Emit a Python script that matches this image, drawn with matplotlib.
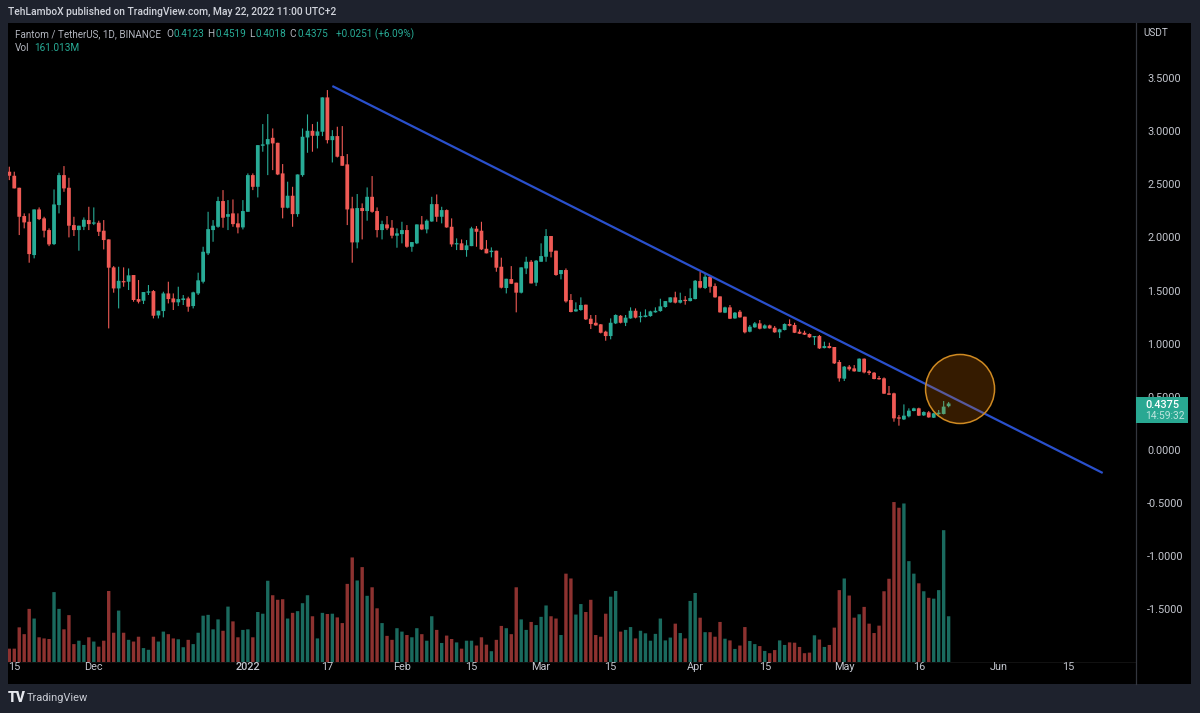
import numpy as np
import pandas as pd
import matplotlib
matplotlib.use("Agg")
import matplotlib.pyplot as plt
import matplotlib.dates as mdates
from matplotlib.patches import Ellipse, Rectangle

opens = [2.618,2.580,2.467,2.201,2.147,1.834,2.263,2.179,2.069,1.937,
2.304,2.586,2.467,2.116,2.069,2.100,2.163,2.129,2.138,2.063,
1.981,1.718,1.520,1.589,1.583,1.646,1.420,1.404,1.480,1.495,
1.266,1.307,1.473,1.426,1.389,1.411,1.426,1.354,1.473,1.583,
1.850,2.069,2.100,2.342,2.194,2.226,2.132,2.094,2.241,2.586,
2.476,2.862,2.875,2.937,2.890,2.602,2.279,2.392,2.219,2.586,
2.940,3.003,2.956,2.994,3.317,2.915,2.953,2.765,2.687,2.273,
1.953,2.276,2.248,2.382,2.248,2.069,2.122,2.091,2.016,2.031,
2.069,1.912,1.944,2.122,2.075,2.150,2.313,2.194,2.257,2.100,
1.934,1.944,1.881,1.918,2.082,2.063,1.893,1.862,1.875,1.724,
1.524,1.608,1.574,1.480,1.708,1.771,1.574,1.771,1.818,2.013,
1.875,1.655,1.693,1.411,1.304,1.317,1.367,1.235,1.197,1.182,
1.113,1.072,1.191,1.263,1.197,1.238,1.310,1.248,1.251,1.260,
1.295,1.307,1.345,1.389,1.436,1.386,1.411,1.401,1.420,1.589,
1.524,1.630,1.542,1.445,1.292,1.342,1.238,1.301,1.254,1.113,
1.154,1.191,1.144,1.172,1.150,1.107,1.129,1.185,1.176,1.113,
1.103,1.091,1.060,1.072,0.959,0.978,0.969,0.828,0.671,0.784,
0.768,0.737,0.859,0.740,0.727,0.674,0.674,0.533,0.533,0.307,
0.288,0.317,0.367,0.392,0.326,0.354,0.304,0.339,0.339,0.4123]

highs = [2.665,2.618,2.467,2.226,2.226,2.263,2.282,2.194,2.085,2.451,
2.608,2.671,2.561,2.194,2.110,2.188,2.288,2.282,2.157,2.163,
1.981,1.730,1.724,1.718,1.708,1.646,1.599,1.486,1.552,1.505,
1.310,1.489,1.583,1.473,1.536,1.458,1.442,1.489,1.668,1.912,
2.241,2.163,2.382,2.445,2.351,2.357,2.226,2.351,2.602,2.602,
2.868,3.066,3.160,3.025,2.890,2.690,2.524,2.476,2.592,3.025,
3.157,3.066,3.088,3.317,3.386,3.009,3.041,3.047,2.784,2.382,
2.408,2.320,2.470,2.577,2.282,2.157,2.201,2.163,2.085,2.147,
2.116,1.956,2.122,2.201,2.169,2.382,2.404,2.288,2.263,2.179,
1.991,1.981,1.975,2.100,2.107,2.147,1.975,1.906,1.875,1.809,
1.611,1.730,1.574,1.718,1.818,1.787,1.787,1.944,2.078,2.013,
1.875,1.693,1.708,1.467,1.389,1.436,1.367,1.270,1.270,1.185,
1.122,1.238,1.276,1.270,1.270,1.342,1.332,1.301,1.323,1.310,
1.342,1.423,1.401,1.436,1.489,1.480,1.448,1.520,1.599,1.677,
1.661,1.636,1.567,1.445,1.348,1.364,1.298,1.317,1.254,1.176,
1.204,1.223,1.182,1.179,1.166,1.141,1.191,1.229,1.197,1.135,
1.122,1.097,1.072,1.082,1.019,1.009,0.969,0.846,0.790,0.799,
0.799,0.862,0.862,0.752,0.734,0.696,0.683,0.602,0.539,0.329,
0.429,0.392,0.398,0.398,0.364,0.367,0.351,0.376,0.461,0.4519]

lows = [2.539,2.461,2.022,2.085,1.762,1.803,2.163,2.000,1.918,1.928,
2.226,2.429,2.000,2.013,1.875,2.069,2.069,2.116,2.013,1.887,
1.144,1.480,1.332,1.536,1.505,1.395,1.379,1.373,1.458,1.238,
1.238,1.248,1.379,1.317,1.354,1.364,1.301,1.332,1.458,1.567,
1.834,1.959,2.091,2.091,2.069,2.100,2.038,2.075,2.241,2.445,
2.376,2.806,2.586,2.633,2.586,2.179,2.273,2.100,2.194,2.571,
2.796,2.806,2.837,2.953,2.884,2.705,2.752,2.674,2.116,1.762,
1.897,1.981,2.157,2.232,2.000,1.981,2.069,1.991,1.903,1.944,
1.903,1.865,1.937,2.069,2.038,2.147,2.147,2.132,2.091,1.912,
1.881,1.881,1.818,1.918,1.912,1.881,1.850,1.812,1.677,1.520,
1.473,1.561,1.295,1.473,1.655,1.567,1.542,1.771,1.771,1.812,
1.639,1.605,1.386,1.295,1.301,1.310,1.223,1.138,1.169,1.097,
1.028,1.041,1.185,1.191,1.166,1.235,1.238,1.201,1.248,1.254,
1.292,1.301,1.339,1.386,1.379,1.379,1.367,1.398,1.417,1.520,
1.514,1.480,1.433,1.292,1.288,1.232,1.235,1.245,1.097,1.107,
1.150,1.135,1.141,1.141,1.103,1.053,1.125,1.163,1.100,1.091,
1.082,1.056,0.987,0.950,0.956,0.956,0.809,0.643,0.649,0.746,
0.737,0.734,0.721,0.705,0.665,0.661,0.527,0.517,0.266,0.229,
0.282,0.307,0.364,0.320,0.320,0.304,0.301,0.329,0.335,0.4018]

closes = [2.580,2.461,2.194,2.141,1.843,2.263,2.172,2.063,1.934,2.310,
2.586,2.461,2.110,2.069,2.110,2.166,2.125,2.138,2.053,1.975,
1.715,1.520,1.592,1.577,1.643,1.411,1.395,1.486,1.486,1.263,
1.310,1.473,1.420,1.389,1.420,1.426,1.348,1.483,1.596,1.865,
2.078,2.110,2.342,2.185,2.219,2.125,2.094,2.248,2.586,2.476,
2.868,2.875,2.925,2.884,2.592,2.279,2.392,2.219,2.592,2.947,
3.003,2.956,2.997,3.317,2.915,2.953,2.759,2.674,2.263,1.953,
2.276,2.248,2.382,2.241,2.069,2.125,2.085,2.016,2.038,2.069,
1.912,1.956,2.122,2.075,2.157,2.313,2.194,2.257,2.094,1.934,
1.944,1.881,1.925,2.085,2.053,1.887,1.850,1.875,1.715,1.527,
1.611,1.564,1.480,1.718,1.771,1.567,1.781,1.824,2.013,1.865,
1.646,1.693,1.398,1.298,1.323,1.364,1.229,1.185,1.172,1.103,
1.072,1.197,1.270,1.197,1.245,1.310,1.245,1.260,1.266,1.304,
1.310,1.351,1.401,1.436,1.386,1.411,1.401,1.429,1.592,1.527,
1.630,1.536,1.436,1.295,1.342,1.235,1.292,1.248,1.107,1.160,
1.191,1.141,1.172,1.144,1.107,1.135,1.185,1.169,1.103,1.094,
1.085,1.060,1.069,0.956,0.978,0.959,0.815,0.674,0.784,0.759,
0.740,0.859,0.730,0.724,0.668,0.665,0.530,0.520,0.298,0.295,
0.323,0.370,0.392,0.323,0.357,0.307,0.345,0.351,0.408,0.4375]

volumes_m = [47,47,122,98,187,153,87,83,81,246,
187,115,165,63,75,60,87,72,54,75,
250,103,181,103,78,72,89,49,43,89,
72,107,98,83,80,52,78,63,103,163,
166,115,150,110,195,143,87,113,115,87,
176,170,286,235,219,221,153,173,179,207,
235,161,83,173,169,170,157,137,275,368,
287,334,233,263,189,137,92,78,119,107,
95,87,119,98,75,161,113,67,93,81,
69,47,75,75,58,87,61,38,78,127,
119,98,263,150,113,141,130,159,199,161,
153,95,311,294,167,204,176,219,95,89,
170,230,250,107,113,123,83,110,101,75,
99,153,76,86,135,102,83,215,243,156,
105,105,89,141,82,76,46,58,123,74,
63,56,39,31,42,76,60,69,68,53,
31,33,94,79,53,60,121,253,294,234,
156,168,194,135,102,128,249,293,563,543,
558,355,311,277,249,226,223,253,464,161]

first_day = "2021-11-14"
x_tick_dates = ["2021-11-15","2021-12-01","2022-01-01","2022-01-17","2022-02-01","2022-02-15",
                "2022-03-01","2022-03-15","2022-04-01","2022-04-15","2022-05-01","2022-05-16",
                "2022-06-01","2022-06-15"]
x_tick_labels = ["15","Dec","2022","17","Feb","15","Mar","15","Apr","15","May","16","Jun","15"]
y_ticks = [3.5,3.0,2.5,2.0,1.5,1.0,0.5,0.0,-0.5,-1.0,-1.5]
trend_dates = ["2022-01-18","2022-06-22"]
trend_prices = [3.424,-0.216]
circle_date = "2022-05-24"
circle_price = 0.574

W, H = 1200, 713
BG = "#1e222d"; GREEN = "#28ab96"; RED = "#ef5a55"
VGREEN = "#1a6a5e"; VRED = "#8d3230"; GRAY = "#b2b5be"; TXT = "#c3c6ce"
plt.rcParams["font.family"] = ["Roboto", "DejaVu Sans"]
fig = plt.figure(figsize=(W/100, H/100), dpi=100, facecolor=BG)

def box(x0, y0, x1, y1):
    return [x0/W, 1-y1/H, (x1-x0)/W, (y1-y0)/H]

fig.add_artist(Rectangle((8/W, 1-684/H), 1183/W, 661/H, transform=fig.transFigure,
                         facecolor="black", edgecolor="none", zorder=-1))

dates = pd.date_range(first_day, periods=len(closes))
xn = mdates.date2num(dates.to_pydatetime())
o, h, l, c = map(np.array, (opens, highs, lows, closes))
up = c >= o
PX_DAY = 4.97
xlim = (xn[0]-(9.3-8)/PX_DAY, xn[0]+(1136-9.3)/PX_DAY)

# volume pane below the price pane
axv = fig.add_axes(box(8, 23, 1136, 684), facecolor="black", zorder=0)
M_PX = 3.52
axv.set_xlim(xlim); axv.set_ylim(-22*M_PX, 639*M_PX)
vbars = axv.bar(xn, volumes_m, width=0.68, color=[VGREEN if u else VRED for u in up], linewidth=0)
for p in vbars:
    p.set_snap(False)
axv.axhline(0, color="#111111", lw=0.8, zorder=0)
axv.axis("off")

ax = fig.add_axes(box(8, 23, 1136, 684), zorder=1)
ax.patch.set_alpha(0)
ax.set_xlim(xlim); ax.set_ylim((450-684)/106.3, (450-23)/106.3)
colors = [GREEN if u else RED for u in up]
wicks = ax.vlines(xn, l, h, colors=colors, linewidth=0.8, zorder=2)
wicks.set_snap(False)
bodies = ax.bar(xn, np.maximum(np.abs(c-o), 0.012), bottom=np.minimum(o, c), width=0.76,
                color=colors, linewidth=0, zorder=3)
for p in bodies:
    p.set_snap(False)

ax.plot(mdates.date2num(pd.to_datetime(trend_dates).to_pydatetime()), trend_prices,
        color="#2a50cc", lw=1.6, solid_capstyle="butt", zorder=4)
ax.add_patch(Ellipse((mdates.date2num(pd.Timestamp(circle_date).to_pydatetime())+0.3, circle_price),
                     69/PX_DAY, 69/106.3, facecolor=(0.96, 0.49, 0.0, 0.22),
                     edgecolor="#cf8a22", lw=1.1, zorder=5))

for s in ["top", "left", "bottom"]:
    ax.spines[s].set_visible(False)
ax.spines["right"].set_color("#33363e"); ax.spines["right"].set_linewidth(0.9)
ax.yaxis.tick_right()
ax.set_yticks(y_ticks); ax.set_yticklabels([f"{v:.4f}" for v in y_ticks])
ax.tick_params(axis="y", length=0, pad=8, labelsize=7.8, labelcolor=TXT)
ax.set_xticks(mdates.date2num(pd.to_datetime(x_tick_dates).to_pydatetime()))
ax.set_xticklabels(x_tick_labels)
ax.tick_params(axis="x", length=0, pad=-16, labelsize=7.8, labelcolor=TXT)
ax.get_xticklabels()[2].set_fontweight("medium")

def T(x, y, s, color=TXT, size=7.2, weight="normal", ha="left"):
    fig.text(x/W, 1-y/H, s, color=color, fontsize=size, fontweight=weight, ha=ha, va="center", zorder=8)

T(8, 12, "TehLamboX published on TradingView.com, May 22, 2022 11:00 UTC+2", "#d1d4dc", 7.4, "medium")
T(15, 34, "Fantom / TetherUS, 1D, BINANCE", GRAY, 7.1)
for xa, lab, xb, val in [(166,"O",174,"0.4123"),(207,"H",215.5,"0.4519"),(249,"L",256,"0.4018"),(289,"C",297.5,"0.4375")]:
    T(xa, 34, lab, GRAY, 7.2); T(xb, 34, val, GREEN, 7.2)
T(336, 34, "+0.0251 (+6.09%)", GREEN, 7.2)
T(15, 48, "Vol", GRAY, 7.2); T(34, 48, "161.013M", GREEN, 7.2)
T(1143, 33, "USDT", TXT, 7.2)
T(8, 698, "TV", "#e6e8ee", 10, "black")
T(27, 698, "TradingView", "#c9ccd4", 7.9)

fig.add_artist(Rectangle((1136/W, 1-423/H), 52/W, 26/H, transform=fig.transFigure,
                         facecolor="#29a892", edgecolor="none", zorder=7))
T(1145, 404.5, "0.4375", "white", 7.8, "medium")
T(1145, 416, "14:59:32", "#bfe6df", 7.4)

fig.savefig("out.png", dpi=100, facecolor=BG)
